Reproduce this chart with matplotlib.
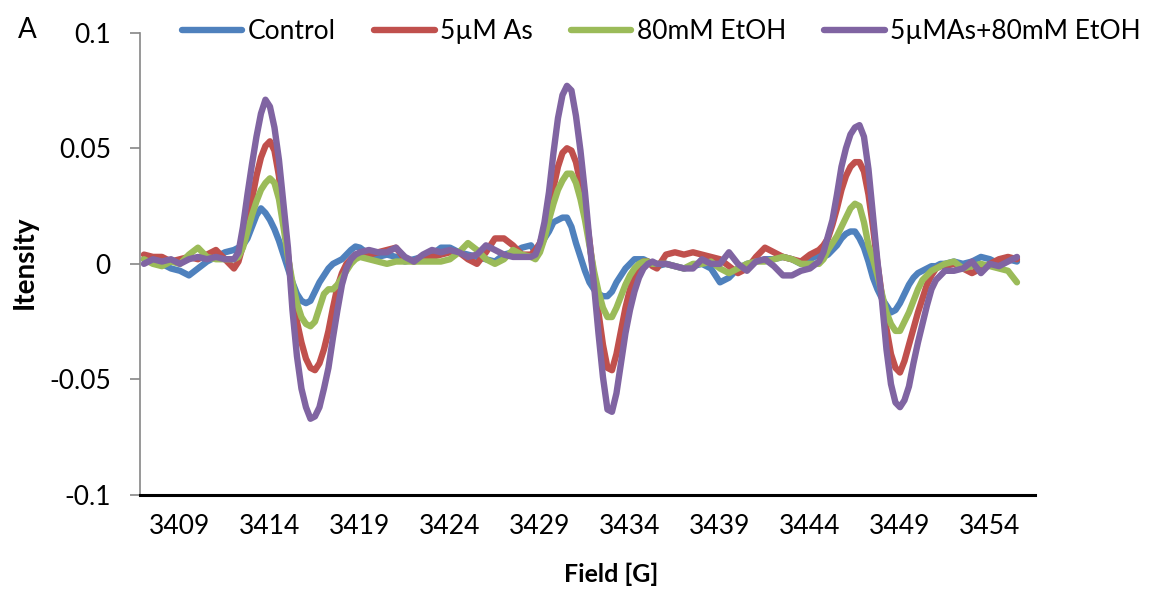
import numpy as np
import matplotlib.pyplot as plt

# field axis [G]: 0.5 G steps on the baseline, 0.25 G steps across the three lines
field = [3407.0, 3407.5, 3408.0, 3408.5, 3409.0, 3409.5, 3410.0, 3410.5, 3411.0, 3411.5,
         3412.0, 3412.25, 3412.5, 3412.75, 3413.0, 3413.25, 3413.5, 3413.75, 3414.0, 3414.25,
         3414.5, 3414.75, 3415.0, 3415.25, 3415.5, 3415.75, 3416.0, 3416.25, 3416.5, 3416.75,
         3417.0, 3417.25, 3417.5, 3417.75, 3418.0, 3418.25, 3418.5, 3418.75, 3419.0,
         3419.5, 3420.0, 3420.5, 3421.0, 3421.5, 3422.0, 3422.5, 3423.0, 3423.5, 3424.0,
         3424.5, 3425.0, 3425.5, 3426.0, 3426.5, 3427.0, 3427.5, 3428.0,
         3428.5, 3428.75, 3429.0, 3429.25, 3429.5, 3429.75, 3430.0, 3430.25, 3430.5, 3430.75,
         3431.0, 3431.25, 3431.5, 3431.75, 3432.0, 3432.25, 3432.5, 3432.75, 3433.0, 3433.25,
         3433.5, 3433.75, 3434.0, 3434.25, 3434.5, 3434.75, 3435.0, 3435.25, 3435.5,
         3436.0, 3436.5, 3437.0, 3437.5, 3438.0, 3438.5, 3439.0, 3439.5, 3440.0, 3440.5,
         3441.0, 3441.5, 3442.0, 3442.5, 3443.0, 3443.5, 3444.0,
         3444.5, 3444.75, 3445.0, 3445.25, 3445.5, 3445.75, 3446.0, 3446.25, 3446.5, 3446.75,
         3447.0, 3447.25, 3447.5, 3447.75, 3448.0, 3448.25, 3448.5, 3448.75, 3449.0, 3449.25,
         3449.5, 3449.75, 3450.0, 3450.25, 3450.5, 3450.75, 3451.0, 3451.25, 3451.5,
         3452.0, 3452.5, 3453.0, 3453.5, 3454.0, 3454.5, 3455.0, 3455.5]

control = [0.002, 0.001, 0.000, -0.002, -0.003, -0.005, -0.002, 0.001, 0.003, 0.005,
           0.006, 0.007, 0.008, 0.011, 0.016, 0.021, 0.024, 0.022, 0.019, 0.015,
           0.010, 0.004, -0.002, -0.008, -0.013, -0.016, -0.017, -0.016, -0.012, -0.008,
           -0.005, -0.002, 0.000, 0.001, 0.002, 0.004, 0.006, 0.0075, 0.007,
           0.004, 0.003, 0.004, 0.003, 0.001, 0.002, 0.003, 0.004, 0.007, 0.007,
           0.005, 0.004, 0.003, 0.002, 0.001, 0.004, 0.005, 0.007,
           0.008, 0.005, 0.007, 0.011, 0.014, 0.018, 0.019, 0.020, 0.020, 0.016,
           0.009, 0.003, -0.003, -0.008, -0.011, -0.013, -0.014, -0.014, -0.012, -0.008,
           -0.005, -0.002, 0.000, 0.002, 0.002, 0.002, 0.001, 0.000, -0.001,
           0.000, -0.001, -0.002, -0.001, 0.000, -0.002, -0.008, -0.006, -0.002, 0.000,
           0.001, 0.002, 0.002, 0.003, 0.002, 0.000, 0.002,
           0.004, 0.003, 0.004, 0.006, 0.008, 0.011, 0.013, 0.014, 0.014, 0.011,
           0.007, 0.001, -0.006, -0.011, -0.015, -0.018, -0.021, -0.020, -0.017, -0.013,
           -0.009, -0.006, -0.004, -0.003, -0.002, -0.001, -0.001, 0.000, 0.000,
           0.001, 0.000, 0.001, 0.003, 0.002, 0.000, 0.002, 0.001]

arsenic = [0.004, 0.003, 0.003, 0.001, 0.002, 0.003, 0.002, 0.004, 0.006, 0.002,
           -0.002, 0.001, 0.008, 0.018, 0.028, 0.038, 0.046, 0.051, 0.053, 0.049,
           0.038, 0.020, 0.004, -0.012, -0.025, -0.034, -0.041, -0.045, -0.046, -0.043,
           -0.037, -0.029, -0.019, -0.010, -0.004, 0.000, 0.002, 0.004, 0.004,
           0.004, 0.005, 0.006, 0.007, 0.002, 0.001, 0.002, 0.003, 0.004, 0.005,
           0.005, 0.002, 0.000, 0.005, 0.011, 0.011, 0.008, 0.004,
           0.004, 0.006, 0.009, 0.015, 0.023, 0.033, 0.042, 0.048, 0.050, 0.049,
           0.044, 0.035, 0.024, 0.010, -0.006, -0.021, -0.035, -0.045, -0.046, -0.039,
           -0.029, -0.019, -0.011, -0.005, -0.001, 0.001, 0.001, -0.001, -0.002,
           0.004, 0.005, 0.004, 0.005, 0.004, 0.003, 0.002, -0.001, -0.004, -0.002,
           0.003, 0.007, 0.005, 0.003, 0.002, 0.001, 0.004,
           0.006, 0.008, 0.011, 0.017, 0.024, 0.032, 0.038, 0.042, 0.044, 0.044,
           0.040, 0.030, 0.016, 0.000, -0.014, -0.028, -0.039, -0.045, -0.047, -0.042,
           -0.035, -0.028, -0.021, -0.015, -0.009, -0.005, -0.002, -0.001, -0.001,
           0.000, -0.002, -0.004, -0.002, 0.000, 0.002, 0.003, 0.002]

ethanol = [0.002, 0.000, -0.001, 0.001, 0.000, 0.004, 0.007, 0.003, 0.002, 0.002,
           0.002, 0.003, 0.007, 0.014, 0.021, 0.027, 0.032, 0.035, 0.037, 0.035,
           0.028, 0.016, 0.003, -0.008, -0.017, -0.023, -0.026, -0.027, -0.025, -0.019,
           -0.013, -0.011, -0.011, -0.009, -0.006, -0.003, 0.000, 0.002, 0.003,
           0.002, 0.001, 0.000, 0.001, 0.001, 0.001, 0.001, 0.001, 0.001, 0.002,
           0.005, 0.009, 0.006, 0.002, 0.000, 0.002, 0.006, 0.004,
           0.003, 0.002, 0.005, 0.011, 0.019, 0.026, 0.032, 0.036, 0.039, 0.039,
           0.035, 0.028, 0.019, 0.008, -0.003, -0.012, -0.019, -0.023, -0.023, -0.019,
           -0.014, -0.009, -0.005, -0.002, 0.000, 0.001, 0.001, 0.000, 0.000,
           0.000, -0.001, -0.002, 0.000, 0.000, 0.001, -0.002, -0.004, -0.002, 0.000,
           0.001, 0.001, 0.002, 0.003, 0.002, 0.000, 0.000,
           0.000, 0.002, 0.006, 0.009, 0.012, 0.016, 0.020, 0.024, 0.026, 0.025,
           0.018, 0.008, 0.002, -0.005, -0.013, -0.021, -0.026, -0.029, -0.029, -0.025,
           -0.021, -0.016, -0.011, -0.007, -0.005, -0.003, -0.002, -0.001, 0.000,
           0.001, -0.002, -0.001, 0.000, -0.001, -0.002, -0.003, -0.008]

combined = [0.000, 0.002, 0.001, 0.002, 0.000, 0.002, 0.003, 0.002, 0.003, 0.002,
            0.002, 0.005, 0.016, 0.030, 0.043, 0.055, 0.065, 0.071, 0.068, 0.059,
            0.045, 0.026, 0.007, -0.020, -0.040, -0.054, -0.062, -0.067, -0.066, -0.062,
            -0.054, -0.045, -0.032, -0.020, -0.009, -0.002, 0.002, 0.004, 0.005,
            0.006, 0.005, 0.005, 0.007, 0.003, 0.001, 0.004, 0.006, 0.005, 0.006,
            0.005, 0.003, 0.004, 0.008, 0.006, 0.004, 0.003, 0.003,
            0.003, 0.004, 0.009, 0.018, 0.031, 0.048, 0.063, 0.073, 0.077, 0.075,
            0.064, 0.049, 0.031, 0.010, -0.009, -0.030, -0.049, -0.063, -0.064, -0.056,
            -0.043, -0.030, -0.020, -0.012, -0.006, -0.002, 0.000, 0.001, 0.000,
            0.000, -0.001, -0.002, -0.002, 0.002, 0.000, 0.000, 0.005, 0.000, -0.003,
            0.001, 0.002, -0.001, -0.005, -0.005, -0.003, -0.002,
            0.001, 0.005, 0.012, 0.019, 0.030, 0.042, 0.050, 0.056, 0.059, 0.060,
            0.055, 0.041, 0.021, 0.001, -0.016, -0.037, -0.052, -0.060, -0.062, -0.059,
            -0.053, -0.043, -0.034, -0.026, -0.018, -0.011, -0.007, -0.005, -0.003,
            -0.003, -0.002, 0.001, -0.004, 0.000, -0.001, 0.001, 0.003]

labels = ['Control', '5µM As', '80mM EtOH', '5µMAs+80mM EtOH']
colors = ['#4F81BD', '#C0504D', '#9BBB59', '#8064A2']
xticks = [3409, 3414, 3419, 3424, 3429, 3434, 3439, 3444, 3449, 3454]
yticks = [-0.1, -0.05, 0, 0.05, 0.1]
ytick_labels = ['-0.1', '-0.05', '0', '0.05', '0.1']

plt.rcParams['font.family'] = ['Lato', 'DejaVu Sans']
plt.rcParams['font.size'] = 19

fig = plt.figure(figsize=(11.56, 5.91), dpi=100)
ax = fig.add_axes([0.1211, 0.1624, 0.7742, 0.7823])

for y, c, lab in zip([control, arsenic, ethanol, combined], colors, labels):
    ax.plot(field, y, color=c, lw=4.6, label=lab,
            solid_joinstyle='round', solid_capstyle='round')

ax.set_xlim(3406.78, 3456.5)
ax.set_ylim(-0.1, 0.1)
ax.set_xticks(xticks)
ax.set_xticklabels([str(t) for t in xticks])
ax.set_yticks(yticks)
ax.set_yticklabels(ytick_labels)

for s in ['top', 'right']:
    ax.spines[s].set_visible(False)
ax.spines['left'].set_color('#868686')
ax.spines['left'].set_linewidth(1.2)
ax.spines['bottom'].set_color('black')
ax.spines['bottom'].set_linewidth(2.2)
ax.tick_params(axis='x', length=0, pad=14)
ax.tick_params(axis='y', length=7, width=1.2, color='#868686', direction='out', pad=14)

ax.set_xlabel('Field [G]', fontweight='bold', fontsize=18, va='center')
ax.xaxis.set_label_coords(0.526, -0.171)
ax.set_ylabel('Itensity', fontweight='bold', fontsize=20, va='center')
ax.yaxis.set_label_coords(-0.1285, 0.504)

fig.text(0.024, 0.950, 'A', fontsize=20, ha='center', va='center')

fig.legend(loc='center', bbox_to_anchor=(0.572, 0.947), ncol=4, frameon=False, fontsize=19,
           handlelength=2.3, handletextpad=0.2, columnspacing=1.45, borderaxespad=0)

fig.savefig('out.png', dpi=100)
